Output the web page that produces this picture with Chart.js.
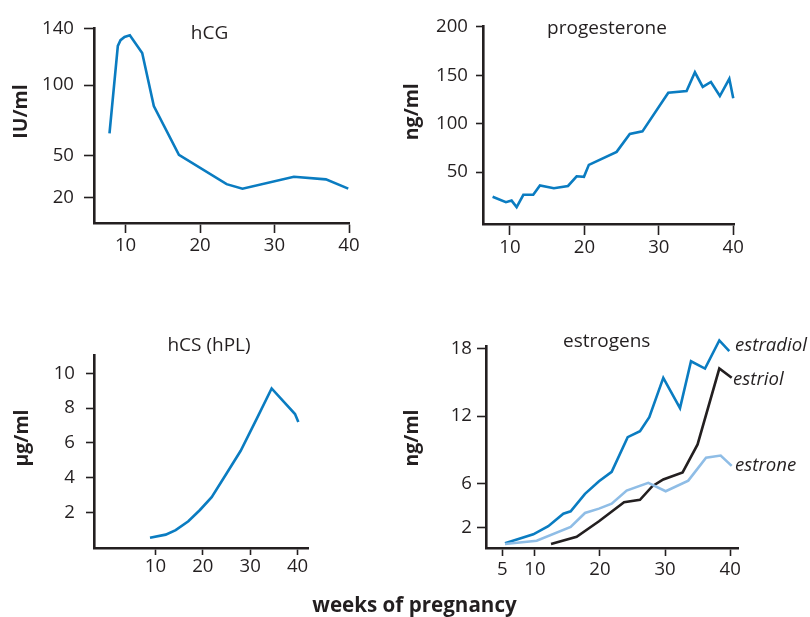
<!DOCTYPE html>
<html><head><meta charset="utf-8">
<script src="https://cdn.jsdelivr.net/npm/chart.js@4"></script>
<style>
html,body{margin:0;padding:0;background:#fff;}
#page{position:relative;width:810px;height:617px;overflow:hidden;background:#fff;}
canvas{position:absolute;}
svg{position:absolute;left:0;top:0;pointer-events:none;}
</style></head><body><div id="page">
<canvas id="c1"></canvas><canvas id="c2"></canvas><canvas id="c3"></canvas><canvas id="c4"></canvas>
<svg width="810" height="617" font-family="'Open Sans'" fill="#231f20">
  <text x="209.5" y="39" font-size="19" text-anchor="middle">hCG</text>
  <text x="607" y="34.3" font-size="19" text-anchor="middle">progesterone</text>
  <text x="209" y="350.7" font-size="19" text-anchor="middle">hCS (hPL)</text>
  <text x="606.7" y="347.3" font-size="19" text-anchor="middle">estrogens</text>
  <text transform="translate(26.7,111.5) rotate(-90)" font-size="19.5" font-weight="bold" text-anchor="middle">IU/ml</text>
  <text transform="translate(418.3,111.7) rotate(-90)" font-size="19.5" font-weight="bold" text-anchor="middle">ng/ml</text>
  <text transform="translate(28,438) rotate(-90)" font-size="19.5" font-weight="bold" text-anchor="middle">µg/ml</text>
  <text transform="translate(418.3,438) rotate(-90)" font-size="19.5" font-weight="bold" text-anchor="middle">ng/ml</text>
  <text x="735" y="351" font-size="18.6" font-style="italic">estradiol</text>
  <text x="733" y="385" font-size="18.6" font-style="italic">estriol</text>
  <text x="735" y="471" font-size="18.6" font-style="italic">estrone</text>
  <text x="414.5" y="612" font-size="20.6" font-weight="bold" text-anchor="middle">weeks of pregnancy</text>
</svg>
</div>
<script>
// ---- data (weeks of pregnancy, concentration) ----
const hcgWeeks  = [7.85, 8.97, 9.33, 9.87, 10.58, 12.24, 13.8, 17.17, 23.57, 25.7, 32.6, 36.9, 39.9];
const hcgValues = [65.7, 127.9, 132, 134.3, 135.4, 122.9, 85.1, 50.4, 29.6, 26.4, 34.9, 33, 26.4];

const progWeeks  = [7.67, 9.46, 10.22, 10.9, 11.8, 13.13, 14.03, 15.9, 17.8, 18.96, 19.94, 20.6, 24.33, 26.1, 27.8, 31.27, 33.73, 34.85, 35.9, 37.0, 38.2, 39.47, 40.0];
const progValues = [24.5, 18.8, 20.5, 13.8, 26.5, 26.5, 36.2, 33.2, 35.6, 45.6, 45, 57.4, 70.8, 89.3, 92, 131.9, 133.6, 153, 137.9, 143, 128.5, 146.3, 126.2];

const hcsWeeks  = [8.86, 12.17, 14.28, 16.95, 19.4, 21.87, 25.04, 27.99, 31.36, 34.52, 39.45, 40.15];
const hcsValues = [0.53, 0.71, 0.97, 1.48, 2.13, 2.87, 4.25, 5.54, 7.38, 9.13, 7.66, 7.2];

const estradiolWeeks  = [5.41, 9.76, 12.06, 14.37, 15.5, 17.7, 19.85, 21.8, 24.26, 26.15, 27.58, 29.73, 32.3, 33.99, 36.14, 38.34, 39.87];
const estradiolValues = [0.63, 1.43, 2.16, 3.28, 3.49, 5.05, 6.17, 7.02, 10.12, 10.65, 11.91, 15.42, 12.71, 16.9, 16.25, 18.76, 17.81];

const estriolWeeks  = [12.48, 16.42, 19.85, 23.7, 26.15, 28.05, 29.73, 32.7, 35.0, 38.34, 40.24];
const estriolValues = [0.57, 1.22, 2.6, 4.31, 4.52, 5.73, 6.34, 6.96, 9.47, 16.25, 15.42];

const estroneWeeks  = [5.41, 10.28, 15.5, 17.7, 19.85, 21.8, 24.1, 27.43, 30.1, 33.57, 36.3, 38.55, 40.24];
const estroneValues = [0.57, 0.86, 2.1, 3.34, 3.73, 4.17, 5.34, 6.03, 5.28, 6.23, 8.29, 8.47, 7.55];

// tick labels
const hcgYTicks = [20, 50, 100, 140];
const progYTicks = [50, 100, 150, 200];
const hcsYTicks = [2, 4, 6, 8, 10];
const estroYTicks = [2, 6, 12, 18];
const weekTicks = [10, 20, 30, 40];
const estroWeekTicks = [5, 10, 20, 30, 40];

// ---- styling ----
const INK = '#231f20';
const BLUE = '#0a7cc1';
const LIGHT = '#8fbde6';
const FONT = "'Open Sans', sans-serif";
const TICK_SIZE = 18.6;

function pts(xs, ys) { return xs.map((x, i) => ({x: x, y: ys[i]})); }
function line(data, color) {
  return { data: data, borderColor: color, borderWidth: 2.6, pointRadius: 0, tension: 0, fill: false, clip: false };
}

const YW = 70, XH = 40, PT = 14, PR = 24;

function makeChart(id, area, xr, yr, xt, yt, g, datasets) {
  const cv = document.getElementById(id);
  const left = area.l - YW, top = area.t - PT;
  const w = (area.r - area.l) + YW + PR, h = (area.b - area.t) + PT + XH;
  cv.width = w; cv.height = h;
  cv.style.left = left + 'px'; cv.style.top = top + 'px';
  cv.style.width = w + 'px'; cv.style.height = h + 'px';
  new Chart(cv, {
    type: 'line',
    data: { datasets: datasets },
    options: {
      responsive: false, animation: false, devicePixelRatio: 1,
      layout: { padding: { top: PT, right: PR, left: 0, bottom: 0 } },
      plugins: { legend: { display: false }, tooltip: { enabled: false }, title: { display: false } },
      scales: {
        x: {
          type: 'linear', min: xr[0], max: xr[1],
          afterBuildTicks: s => { s.ticks = xt.map(v => ({value: v})); },
          afterFit: s => { s.height = XH; },
          border: { display: true, color: INK, width: 2.6 },
          grid: { display: true, drawOnChartArea: false, drawTicks: true, tickLength: g.xtl, tickWidth: 1.6, tickColor: INK, color: INK },
          ticks: { color: INK, padding: g.xpad, font: { family: FONT, size: TICK_SIZE }, maxRotation: 0, autoSkip: false, callback: v => String(v) }
        },
        y: {
          type: 'linear', min: yr[0], max: yr[1],
          afterBuildTicks: s => { s.ticks = yt.map(v => ({value: v})); },
          afterFit: s => { s.width = YW; },
          border: { display: true, color: INK, width: 2.6 },
          grid: { display: true, drawOnChartArea: false, drawTicks: true, tickLength: g.ytl, tickWidth: 1.6, tickColor: INK, color: INK },
          ticks: { color: INK, padding: g.ypad, font: { family: FONT, size: TICK_SIZE }, autoSkip: false, callback: v => String(v) }
        }
      }
    }
  });
}

makeChart('c1', {l:94, t:21, r:349, b:223}, [5.77, 40], [2.0, 140.5], weekTicks, hcgYTicks,
  {xtl:10, xpad:2, ytl:10, ypad:10},
  [line(pts(hcgWeeks, hcgValues), BLUE)]);

makeChart('c2', {l:483, t:21, r:734, b:224}, [6.38, 40.1], [-3.7, 200.7], weekTicks, progYTicks,
  {xtl:11, xpad:2, ytl:7, ypad:8},
  [line(pts(progWeeks, progValues), BLUE)]);

makeChart('c3', {l:94, t:347, r:308, b:548}, [-2.95, 42.19], [-0.06, 11.05], weekTicks, hcsYTicks,
  {xtl:7, xpad:1, ytl:8, ypad:11},
  [line(pts(hcsWeeks, hcsValues), BLUE)]);

makeChart('c4', {l:486, t:344, r:738, b:548}, [2.49, 41.21], [0.21, 18.25], estroWeekTicks, estroYTicks,
  {xtl:8, xpad:3, ytl:9, ypad:5},
  [line(pts(estroneWeeks, estroneValues), LIGHT),
   line(pts(estriolWeeks, estriolValues), INK),
   line(pts(estradiolWeeks, estradiolValues), BLUE)]);
</script>
</body></html>
